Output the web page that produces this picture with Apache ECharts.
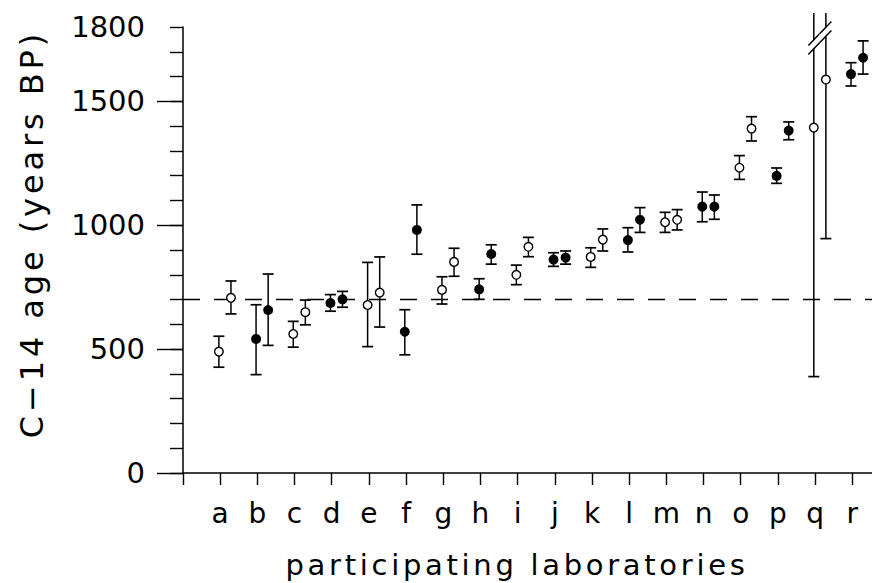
<!DOCTYPE html>
<html><head><meta charset="utf-8">
<script src="https://cdn.jsdelivr.net/npm/echarts@6/dist/echarts.min.js"></script>
<style>html,body{margin:0;padding:0;background:#fff}#chart{width:872px;height:583px}</style>
</head><body><div id="chart"></div>
<script>
// ---- data ----
const labs = ['a','b','c','d','e','f','g','h','i','j','k','l','m','n','o','p','q','r'];
const filledLab = [false,true,false,true,false,true,false,true,false,true,false,true,false,true,false,true,false,true];
const value1 = [490, 541, 561, 686, 678, 570, 739, 741, 800, 861, 872, 940, 1012, 1075, 1232, 1199, 1394, 1610];
const low1   = [427, 397, 508, 653, 510, 477, 682, 701, 760, 834, 830, 892, 971, 1014, 1185, 1169, 389, 1562];
const high1  = [552, 679, 612, 720, 850, 659, 792, 784, 839, 889, 909, 990, 1052, 1134, 1281, 1231, null, 1656];
const value2 = [707, 658, 649, 701, 728, 981, 852, 884, 913, 869, 942, 1022, 1022, 1075, 1390, 1382, 1588, 1676];
const low2   = [642, 515, 598, 669, 589, 883, 794, 843, 873, 843, 896, 971, 981, 1024, 1340, 1345, 946, 1610];
const high2  = [775, 803, 698, 733, 872, 1082, 907, 921, 951, 896, 985, 1071, 1063, 1122, 1438, 1417, null, 1744];
const refAge = 700;
const yLabelValues = [0, 500, 1000, 1500, 1800];
const yMajorTicks = [0, 500, 1000, 1500];
const yMinorTicks = [0,100,200,300,400,500,600,700,800,900,1000,1100,1200,1300,1400,1500,1600,1700,1800];
const xTickValues = [0,1,2,3,4,5,6,7,8,9,10,11,12,13,14,15,16,17,18];
const xLabelValues = [1,2,3,4,5,6,7,8,9,10,11,12,13,14,15,16,17,18];
const xTitle = 'participating laboratories';
const yTitle = 'C\u221214 age (years BP)';

// ---- build ----
const FONT = 'DejaVu Sans';
const PAIR_OFFSET = [-0.035, 0.29];
const sets = [[value1, low1, high1], [value2, low2, high2]];
const points = [];
labs.forEach((l, i) => {
  sets.forEach((s, k) => {
    points.push([i + 1 + PAIR_OFFSET[k], s[0][i], s[1][i], s[2][i] == null ? NaN : s[2][i], filledLab[i] ? 1 : 0, i, k]);
  });
});

const chart = echarts.init(document.getElementById('chart'), null, {renderer: 'svg'});
const axisLineStyle = {color: '#000', width: 1.5};

function renderItem(params, api) {
  const x = api.value(0), v = api.value(1), lo = api.value(2), hi = api.value(3);
  const isFilled = api.value(4) === 1, k = api.value(6);
  const c = api.coord([x, v]);
  const yLo = api.coord([x, lo])[1];
  const cs = params.coordSys;
  const broken = isNaN(hi);
  const yHi = broken ? cs.y - 14 : api.coord([x, hi])[1];
  const cw = 5.5;
  const ch = [];
  ch.push({type: 'line', shape: {x1: c[0], y1: yLo, x2: c[0], y2: yHi}, style: {stroke: '#000', lineWidth: 1.5}});
  ch.push({type: 'line', shape: {x1: c[0] - cw, y1: yLo, x2: c[0] + cw, y2: yLo}, style: {stroke: '#000', lineWidth: 1.7}});
  if (!broken) {
    ch.push({type: 'line', shape: {x1: c[0] - cw, y1: yHi, x2: c[0] + cw, y2: yHi}, style: {stroke: '#000', lineWidth: 1.7}});
  } else {
    const xc = k === 0 ? c[0] + 6 : c[0] - 6;
    const xa = k === 0 ? xc - 11.5 : xc;
    const xb = k === 0 ? xc : xc + 11.5;
    const yA = xx => cs.y + 6.5 - (xx - xc) * 1.05;
    const yB = xx => cs.y + 15.5 - (xx - xc) * 1.05;
    ch.push({type: 'polygon', shape: {points: [[xa, yA(xa) + 0.8], [xb, yA(xb) + 0.8], [xb, yB(xb) - 0.8], [xa, yB(xa) - 0.8]]}, style: {fill: '#fff'}});
    ch.push({type: 'line', shape: {x1: xa, y1: yA(xa), x2: xb, y2: yA(xb)}, style: {stroke: '#000', lineWidth: 1.5}});
    ch.push({type: 'line', shape: {x1: xa, y1: yB(xa), x2: xb, y2: yB(xb)}, style: {stroke: '#000', lineWidth: 1.5}});
  }
  ch.push({type: 'circle', shape: {cx: c[0], cy: c[1], r: 4.3}, style: {fill: isFilled ? '#000' : '#fff', stroke: '#000', lineWidth: 1.4}});
  return {type: 'group', children: ch};
}

chart.setOption({
  animation: false,
  backgroundColor: '#fff',
  grid: {left: 183, right: 0, top: 27, bottom: 110, containLabel: false, outerBoundsMode: 'none'},
  xAxis: {
    type: 'value', min: 0, max: 18.53,
    axisLine: {show: true, onZero: true, lineStyle: axisLineStyle},
    axisTick: {show: true, customValues: xTickValues, length: 12, lineStyle: {color: '#000', width: 1.4}},
    axisLabel: {show: true, customValues: xLabelValues, formatter: v => labs[Math.round(v) - 1], margin: 26,
      fontSize: 28, fontFamily: FONT, color: '#000'},
    splitLine: {show: false}
  },
  yAxis: [{
    type: 'value', min: 0, max: 1800, position: 'left',
    axisLine: {show: true, onZero: false, lineStyle: axisLineStyle},
    axisTick: {show: true, customValues: yMinorTicks, length: 13, lineStyle: {color: '#000', width: 1.4}},
    axisLabel: {show: true, customValues: yLabelValues, formatter: v => String(v), margin: 38,
      fontSize: 29, fontFamily: FONT, color: '#000'},
    splitLine: {show: false}
  }, {
    type: 'value', min: 0, max: 1800, position: 'left',
    axisLine: {show: false},
    axisTick: {show: true, customValues: yMajorTicks, length: 26, lineStyle: {color: '#000', width: 1.4}},
    axisLabel: {show: false},
    splitLine: {show: false}
  }],
  series: [{
    type: 'custom',
    z: 3,
    clip: false,
    encode: {x: 0, y: 1},
    data: points,
    renderItem: renderItem,
    markLine: {
      z: 1, silent: true, symbol: ['none', 'none'], label: {show: false},
      lineStyle: {color: '#000', type: [17, 14], width: 1.4},
      emphasis: {disabled: true},
      data: [{yAxis: refAge}]
    }
  }],
  graphic: [
    {type: 'text', x: 517, y: 565, style: {text: xTitle, fontSize: 29, fontFamily: FONT, fill: '#000',
      align: 'center', verticalAlign: 'middle', textAlign: 'center', textVerticalAlign: 'middle'}},
    {type: 'text', x: 32, y: 234, rotation: Math.PI / 2, style: {text: yTitle, fontSize: 32, fontFamily: FONT, fill: '#000',
      align: 'center', verticalAlign: 'middle', textAlign: 'center', textVerticalAlign: 'middle'}}
  ]
});

const SPACING = {};
SPACING[xTitle] = '3.7px';
SPACING[yTitle] = '3.9px';
function spaceTitles() {
  document.querySelectorAll('#chart text').forEach(t => {
    const s = SPACING[t.textContent];
    if (s) t.style.letterSpacing = s;
  });
}
chart.on('finished', spaceTitles);
spaceTitles();
setTimeout(spaceTitles, 0);
</script>
</body></html>
